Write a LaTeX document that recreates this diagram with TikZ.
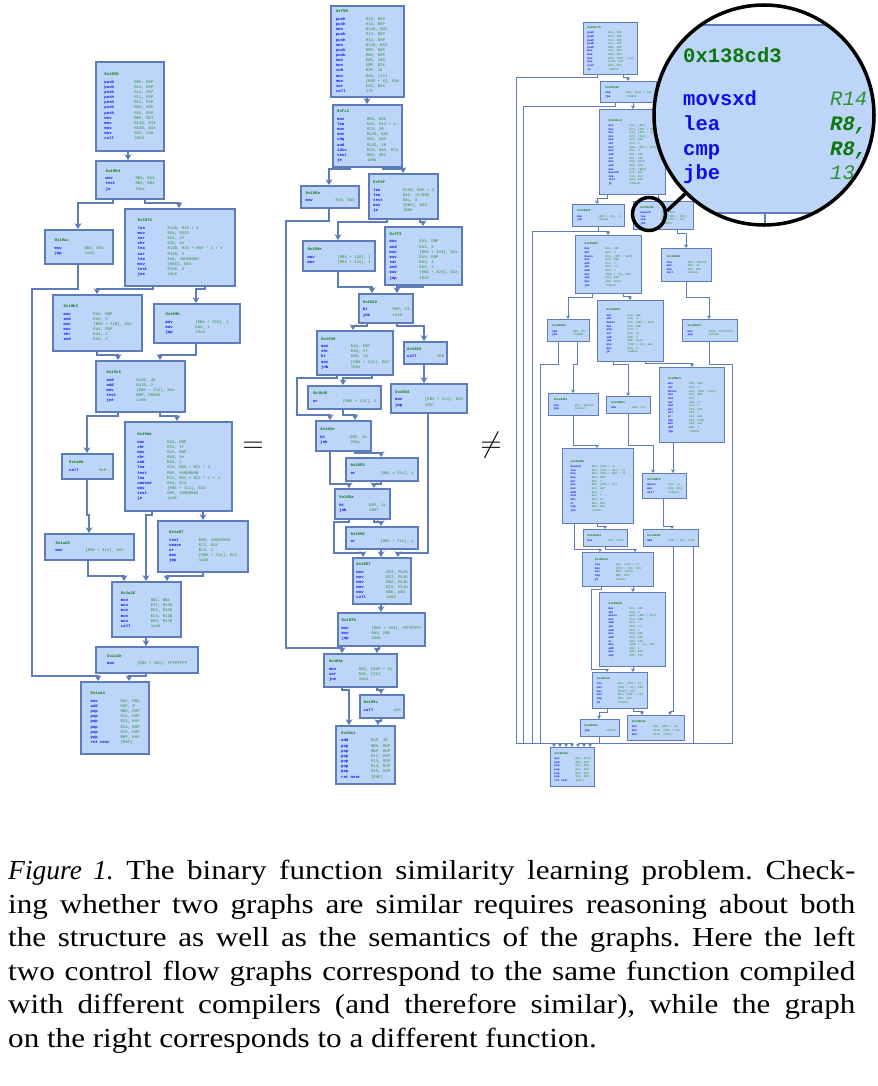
\documentclass[tikz,border=0pt]{standalone}
\usepackage{fontspec}
\setmainfont{Liberation Serif}
\setmonofont{Liberation Mono}
\newfontfamily\captionFont[UprightFeatures={FakeStretch=1.13}]{Liberation Serif}
\usepackage{tikz}
\usetikzlibrary{arrows.meta}
\definecolor{blockFill}{RGB}{190,213,250}
\definecolor{blockLine}{RGB}{94,124,183}
\definecolor{addrGreen}{RGB}{10,120,10}
\definecolor{mnemBlue}{RGB}{15,15,235}
\definecolor{opGreen}{RGB}{45,145,45}
\tikzstyle{picture} = [x = 0.03cm, y = -0.03cm]
\tikzstyle{cfgBlock} = [draw=blockLine, fill=blockFill, line width=2pt, inner sep=1pt, font=\fontsize{3.4}{4.4}\selectfont\ttfamily]
\tikzstyle{cfgBlockThin} = [cfgBlock, line width=1pt, font=\fontsize{2.4}{3.1}\selectfont\ttfamily]
\tikzstyle{flowEdge} = [draw=blockLine, line width=1.6pt, -{Stealth[length=5pt, width=6pt]}]
\tikzstyle{flowEdgeThin} = [draw=blockLine, line width=0.8pt, -{Stealth[length=3pt, width=3.5pt]}]
\tikzstyle{relSign} = [anchor=base, inner sep=0, font=\fontsize{36}{40}\selectfont]
\tikzstyle{lensRing} = [circle, draw=black, line width=3pt, inner sep=0]
\tikzstyle{lensHandle} = [draw=black, line width=3pt]
\tikzstyle{zoomText} = [anchor=base west, inner sep=0, font=\fontsize{17.5}{20}\selectfont\ttfamily]
\tikzstyle{captionText} = [anchor=north west, inner sep=0, text width=25.41cm, align=justify, font=\captionFont\fontsize{23.5}{28.6}\selectfont\frenchspacing]
\newcommand{\cfgNode}[7][cfgBlock]{\node [#1, anchor=north west, minimum width={(#5-#3)*0.03cm}, minimum height={(#6-#4)*0.03cm}] (#2) at (#3,#4) {#7};}
\newcommand{\cfgCode}[2]{\begin{tabular}{@{}l@{}}\textcolor{addrGreen}{\bfseries #1}\\[0.6em]#2\end{tabular}}
\newcommand{\ins}[2]{\makebox[7.5em][l]{\textcolor{mnemBlue}{\bfseries #1}}\textcolor{opGreen}{#2}\\}
\newcommand{\edgeDown}[4][flowEdge]{\draw [#1] (#2.south -| #4,0) -- (#3.north -| #4,0);}
\newcommand{\edgeJog}[6][flowEdge]{\draw [#1] (#2.south -| #4,0) -- (#4,#5) -- (#6,#5) -- (#3.north -| #6,0);}
\begin{document}
\begin{tikzpicture}[picture]
  \useasboundingbox (0,0) rectangle (878,1086);

  \cfgNode{b1950}{95}{61}{163}{150}{\cfgCode{0x1950}{\ins{push}{RBP, RSP}\ins{push}{R15, RSP}\ins{push}{R14, RSP}\ins{push}{R13, RSP}\ins{push}{R12, RSP}\ins{push}{RBX, RSP}\ins{push}{RAX, RSP}\ins{mov}{RBP, RDI}\ins{mov}{R14D, ESI}\ins{mov}{R15D, EDX}\ins{mov}{EDI, 340}\ins{call}{1028}}}
  \cfgNode{b196d}{95}{160}{163}{198}{\cfgCode{0x196d}{\ins{mov}{RBX, RAX}\ins{test}{RBX, RBX}\ins{je}{19ac}}}
  \cfgNode{b19ac}{44}{229}{112}{263}{\cfgCode{0x19ac}{\ins{mov}{EBX, EBX}\ins{jmp}{1a44}}}
  \cfgNode{b1975}{124}{208}{234}{285}{\cfgCode{0x1975}{\ins{lea}{R12D, R15 + 4}\ins{mov}{EAX, R12D}\ins{sar}{EAX, 1f}\ins{shr}{EAX, 1e}\ins{lea}{R13D, R15 + RAX * 2 + 4}\ins{sar}{R13D, 2}\ins{lea}{EAX, 20000000}\ins{mov}{[RBX], EAX}\ins{test}{R15D, 8}\ins{jne}{19c6}}}
  \cfgNode{b19b3}{52}{294}{141}{350}{\cfgCode{0x19b3}{\ins{mov}{EAX, EBP}\ins{and}{EAX, 3}\ins{mov}{[RBX + 320], EAX}\ins{mov}{EAX, EBP}\ins{shr}{EAX, 2}\ins{and}{EAX, 3}}}
  \cfgNode{b199b}{153}{303}{239}{342}{\cfgCode{0x199b}{\ins{mov}{[RBX + 320], 1}\ins{mov}{EAX, 1}\ins{jmp}{19c6}}}
  \cfgNode{b19c6}{95}{360}{184}{411}{\cfgCode{0x19c6}{\ins{and}{R12D, 40}\ins{add}{R13D, 2}\ins{mov}{[RBX + 324], EAX}\ins{test}{EBP, 80000}\ins{jne}{1a0b}}}
  \cfgNode{b1a0b}{61}{453}{112}{478}{\cfgCode{0x1a0b}{\ins{call}{8e0}}}
  \cfgNode{b19de}{124}{421}{231}{510}{\cfgCode{0x19de}{\ins{mov}{ECX, EBP}\ins{shr}{ECX, 1f}\ins{mov}{EAX, EBP}\ins{shr}{EAX, 1e}\ins{and}{EAX, 2}\ins{lea}{ECX, RAX + RCX * 1}\ins{test}{EBP, 40000000}\ins{lea}{ECX, RAX + RCX * 2 + 4}\ins{cmovne}{EAX, ECX}\ins{mov}{[RBX + 314], ECX}\ins{test}{EBP, 10000000}\ins{je}{1a26}}}
  \cfgNode{b1a20}{44}{533}{133}{559}{\cfgCode{0x1a20}{\ins{mov}{[RBX + 314], EAX}}}
  \cfgNode{b1a07}{157}{520}{247}{571}{\cfgCode{0x1a07}{\ins{test}{EBP, 40000000}\ins{cmove}{ECX, EAX}\ins{or}{ECX, 1}\ins{mov}{[RBX + 314], ECX}\ins{jmp}{1a26}}}
  \cfgNode{b1a26}{111}{581}{180}{636}{\cfgCode{0x1a26}{\ins{mov}{RDI, RBX}\ins{mov}{ESI, R14D}\ins{mov}{EDX, R15D}\ins{mov}{ECX, R12D}\ins{mov}{R8D, R13D}\ins{call}{1a56}}}
  \cfgNode{b1a3e}{95}{646}{197}{672}{\cfgCode{0x1a3e}{\ins{mov}{[RBX + 300], FFFFFFFF}}}
  \cfgNode{b1a44}{80}{681}{148}{753}{\cfgCode{0x1a44}{\ins{mov}{RAX, RBX}\ins{add}{RSP, 8}\ins{pop}{RBX, RSP}\ins{pop}{R12, RSP}\ins{pop}{R13, RSP}\ins{pop}{R14, RSP}\ins{pop}{R15, RSP}\ins{pop}{RBP, RSP}\ins{ret near}{[RSP]}}}

  \edgeDown{b1950}{b196d}{128}
  \edgeJog{b196d}{b19ac}{113}{203}{78}
  \edgeJog{b196d}{b1975}{145}{203}{179}
  \draw [flowEdge] (b19ac.south -| 78,0) -- (78,289) -- (32,289) -- (32,676) -- (98,676) -- (b1a44.north -| 98,0);
  \edgeJog{b1975}{b19b3}{153}{289}{97}
  \edgeJog{b1975}{b199b}{205}{289}{196}
  \edgeJog{b19b3}{b19c6}{97}{355}{118}
  \edgeJog{b199b}{b19c6}{196}{355}{160}
  \edgeJog{b19c6}{b1a0b}{118}{416}{87}
  \edgeJog{b19c6}{b19de}{160}{416}{177}
  \edgeJog{b1a0b}{b1a20}{87}{515}{89}
  \edgeJog{b19de}{b1a26}{152}{515}{146}
  \edgeDown{b19de}{b1a07}{203}
  \edgeJog{b1a20}{b1a26}{88}{576}{124}
  \edgeJog{b1a07}{b1a26}{203}{576}{167}
  \edgeDown{b1a26}{b1a3e}{146}
  \edgeJog{b1a3e}{b1a44}{146}{676}{129}

  \cfgNode{bf90}{330}{5}{403}{96}{\cfgCode{0xf90}{\ins{push}{R15, RSP}\ins{push}{R14, RSP}\ins{mov}{R14D, EDX}\ins{push}{R13, RSP}\ins{push}{R12, RSP}\ins{mov}{R13D, ESI}\ins{push}{RBP, RSP}\ins{push}{RBX, RSP}\ins{mov}{EDI, 340}\ins{mov}{EBP, ECX}\ins{sub}{RSP, 18}\ins{mov}{RAX, [28]}\ins{mov}{[RSP + 8], RAX}\ins{xor}{EAX, EAX}\ins{call}{470}}}
  \cfgNode{bfc3}{332}{104}{401}{166}{\cfgCode{0xfc3}{\ins{mov}{RBX, RAX}\ins{lea}{EAX, R13 + 4}\ins{mov}{ECX, 20}\ins{mov}{R12D, EAX}\ins{cdq}{EDX, EAX}\ins{and}{R12D, 40}\ins{idiv}{EDX, EAX, ECX}\ins{test}{RBX, RBX}\ins{je}{109a}}}
  \cfgNode{b109a}{300}{185}{358}{207}{\cfgCode{0x109a}{\ins{mov}{EAX, EAX}}}
  \cfgNode{bfdf}{368}{173}{437}{218}{\cfgCode{0xfdf}{\ins{lea}{R15D, RAX + 2}\ins{lea}{EAX, 217000}\ins{test}{R8L, 8}\ins{mov}{[RBX], EAX}\ins{je}{100e}}}
  \cfgNode{b100e}{302}{240}{374}{270}{\cfgCode{0x100e}{\ins{mov}{[RBX + 320], 1}\ins{mov}{[RBX + 324], 1}}}
  \cfgNode{bff3}{384}{226}{461}{284}{\cfgCode{0xff3}{\ins{mov}{EAX, EBP}\ins{and}{EAX, 3}\ins{mov}{[RBX + 320], EAX}\ins{mov}{EAX, EBP}\ins{sar}{EAX, 4}\ins{and}{EAX, 3}\ins{mov}{[RBX + 324], EAX}\ins{jmp}{1022}}}
  \cfgNode{b1022}{358}{293}{412}{322}{\cfgCode{0x1022}{\ins{bt}{EBP, 13}\ins{jnb}{1030}}}
  \cfgNode{b1030}{316}{330}{392}{374}{\cfgCode{0x1030}{\ins{mov}{EAX, EBP}\ins{shr}{EAX, 1f}\ins{bt}{EBP, 1d}\ins{mov}{[RBX + 314], EAX}\ins{jnb}{104e}}}
  \cfgNode{b1028}{403}{341}{446}{363}{\cfgCode{0x1028}{\ins{call}{450}}}
  \cfgNode{b1046}{307}{385}{380}{408}{\cfgCode{0x1046}{\ins{or}{[RBX + 314], 2}}}
  \cfgNode{b10d4}{390}{383}{466}{412}{\cfgCode{0x10d4}{\ins{mov}{[RBX + 314], EAX}\ins{jmp}{1067}}}
  \cfgNode{b104e}{315}{420}{370}{450}{\cfgCode{0x104e}{\ins{bt}{EBP, 1e}\ins{jnb}{105a}}}
  \cfgNode{b1053}{345}{457}{417}{480}{\cfgCode{0x1053}{\ins{or}{[RBX + 314], 4}}}
  \cfgNode{b105a}{334}{488}{389}{518}{\cfgCode{0x105a}{\ins{bt}{EBP, 1c}\ins{jnb}{1067}}}
  \cfgNode{b1060}{345}{526}{417}{548}{\cfgCode{0x1060}{\ins{or}{[RBX + 314], 1}}}
  \cfgNode{b1067}{352}{557}{410}{603}{\cfgCode{0x1067}{\ins{mov}{EDI, R12D}\ins{mov}{ESI, R15D}\ins{mov}{EDX, R14D}\ins{mov}{ECX, R13D}\ins{mov}{R8D, EBX}\ins{call}{4a60}}}
  \cfgNode{b107b}{337}{612}{424}{645}{\cfgCode{0x107b}{\ins{mov}{[RBX + 300], FFFFFFFF}\ins{mov}{RAX, RBX}\ins{jmp}{108c}}}
  \cfgNode{b108c}{323}{653}{396}{686}{\cfgCode{0x108c}{\ins{mov}{RDX, [RSP + 8]}\ins{xor}{RDX, [28]}\ins{jne}{10a1}}}
  \cfgNode{b109c}{359}{694}{403}{717}{\cfgCode{0x109c}{\ins{call}{420}}}
  \cfgNode{b10a1}{335}{725}{394}{783}{\cfgCode{0x10a1}{\ins{add}{RSP, 18}\ins{pop}{RBX, RSP}\ins{pop}{RBP, RSP}\ins{pop}{R12, RSP}\ins{pop}{R13, RSP}\ins{pop}{R14, RSP}\ins{pop}{R15, RSP}\ins{ret near}{[RSP]}}}

  \edgeDown{bf90}{bfc3}{367}
  \edgeJog{bfc3}{b109a}{350}{169}{329}
  \edgeJog{bfc3}{bfdf}{383}{169}{403}
  \draw [flowEdge] (b109a.south -| 329,0) -- (329,221) -- (286,221) -- (286,648) -- (342,648) -- (b108c.north -| 342,0);
  \edgeJog{bfdf}{b100e}{387}{222}{338}
  \edgeJog{bfdf}{bff3}{420}{222}{423}
  \edgeJog{b100e}{b1022}{338}{287}{372}
  \edgeJog{bff3}{b1022}{423}{287}{397}
  \edgeJog{b1022}{b1030}{367}{326}{353}
  \edgeJog{b1022}{b1028}{397}{326}{424}
  \edgeJog{b1030}{b1046}{372}{378}{343}
  \draw [flowEdge] (b1030.south -| 337,0) -- (337,378) -- (297,378) -- (297,415) -- (330,415) -- (b104e.north -| 330,0);
  \edgeDown{b1028}{b10d4}{424}
  \edgeJog{b1046}{b104e}{343}{415}{355}
  \edgeJog{b10d4}{b1067}{428}{553}{398}
  \edgeJog{b104e}{b1053}{355}{453}{381}
  \edgeJog{b104e}{b105a}{330}{484}{349}
  \edgeJog{b1053}{b105a}{381}{484}{374}
  \edgeJog{b105a}{b1060}{374}{522}{381}
  \draw [flowEdge] (b105a.south -| 349,0) -- (349,522) -- (334,522) -- (334,553) -- (363,553) -- (b1067.north -| 363,0);
  \edgeDown{b1060}{b1067}{381}
  \edgeDown{b1067}{b107b}{381}
  \edgeJog{b107b}{b108c}{379}{649}{377}
  \edgeJog{b108c}{b10a1}{342}{690}{349}
  \edgeJog{b108c}{b109c}{377}{690}{381}
  \edgeJog{b109c}{b10a1}{381}{721}{378}

  \cfgNode[cfgBlockThin]{r1}{583}{22}{637}{74}{\cfgCode{0x138c70}{\ins{push}{R15, RSP}\ins{push}{R14, RSP}\ins{push}{R13, RSP}\ins{push}{R12, RSP}\ins{push}{RBX, RSP}\ins{mov}{R12, RDI}\ins{mov}{RBX, RSI}\ins{mov}{EAX, [RDI + 10]}\ins{mov}{R13D, EDX}\ins{test}{EDX, EDX}\ins{je}{138e40}}}
  \cfgNode[cfgBlockThin]{r2}{600}{81}{656}{102}{\cfgCode{0x138cb8}{\ins{cmp}{EAX, [RSI + 10]}\ins{jbe}{138d20}}}
  \cfgNode[cfgBlockThin]{r3}{599}{109}{665}{194}{\cfgCode{0x138cc0}{\ins{mov}{RAX, [RDI]}\ins{mov}{RCX, [RSI + 18]}\ins{mov}{R15, [RSI + 8]}\ins{mov}{EDX, [RAX]}\ins{mov}{ECX, EDX}\ins{shl}{ECX, 3}\ins{mov}{R8D, [RAX + RDX]}\ins{mov}{ESI, 4}\ins{sub}{ESI, R8D}\ins{xor}{EDI, EDI}\ins{mov}{R9D, R15D}\ins{and}{R9D, ESI}\ins{mov}{R10, [RBX]}\ins{movsxd}{R11, ECX}\ins{cmp}{R10, R11}\ins{test}{EAX, EAX}\ins{je}{138e10}}}
  \cfgNode[cfgBlockThin]{r4}{572}{204}{624}{226}{\cfgCode{0x138d20}{\ins{mov}{[RDI + 20], 0}\ins{jmp}{138e4b}}}
  \cfgNode[cfgBlockThin]{r5}{633}{201}{693}{229}{\cfgCode{0x138cd3}{\ins{movsxd}{R14, EDX}\ins{lea}{R8, [RDX + R14]}\ins{cmp}{R8, [RSI + 10]}\ins{jbe}{138d60}}}
  \cfgNode[cfgBlockThin]{r6}{575}{235}{641}{293}{\cfgCode{0x138d05}{\ins{mov}{EAX, EBP}\ins{shr}{EAX, 3}\ins{movsx}{EAX, [RDI + RAX]}\ins{mov}{ECX, EBP}\ins{and}{ECX, 7}\ins{sar}{EAX, CL}\ins{and}{EAX, 1}\ins{mov}{[RSP + 10], EAX}\ins{cmp}{EAX, EDX}\ins{mov}{EDX, R13D}\ins{jne}{138d4b}}}
  \cfgNode[cfgBlockThin]{r7}{661}{248}{711}{281}{\cfgCode{0x138da0}{\ins{lea}{ESI, 138f00}\ins{mov}{EDX, 14}\ins{mov}{RDI, RBX}\ins{call}{1386a0}}}
  \cfgNode[cfgBlockThin]{r8}{547}{319}{589}{341}{\cfgCode{0x138d4b}{\ins{cmp}{EBP, 88}\ins{jbe}{138dd8}}}
  \cfgNode[cfgBlockThin]{r9}{597}{300}{663}{361}{\cfgCode{0x138d52}{\ins{mov}{EAX, EBP}\ins{shr}{EAX, 3}\ins{movsx}{EAX, [RDI + RAX]}\ins{mov}{ECX, EBP}\ins{and}{ECX, 7}\ins{sar}{EAX, CL}\ins{add}{EBP, 1}\ins{cmp}{EBP, R14D}\ins{mov}{[RSP + 14], EAX}\ins{mov}{EDX, 1}\ins{jb}{138d6a}}}
  \cfgNode[cfgBlockThin]{r10}{682}{319}{737}{341}{\cfgCode{0x138da7}{\ins{mov}{R13D, FFFFFFFF}\ins{jmp}{138e4b}}}
  \cfgNode[cfgBlockThin]{r11}{548}{393}{598}{415}{\cfgCode{0x138d60}{\ins{lea}{EDI, 138ea0}\ins{jmp}{138e04}}}
  \cfgNode[cfgBlockThin]{r12}{606}{396}{650}{413}{\cfgCode{0x138d6a}{\ins{mov}{EBX, ECX}}}
  \cfgNode[cfgBlockThin]{r13}{659}{367}{724}{442}{\cfgCode{0x138d7c}{\ins{mov}{EAX, EBP}\ins{shr}{EAX, 3}\ins{movsx}{EAX, [RDI + RAX]}\ins{mov}{ECX, EBP}\ins{and}{ECX, 7}\ins{sar}{EAX, CL}\ins{and}{EAX, 1}\ins{mov}{EDX, EAX}\ins{shl}{EDX, 1}\ins{or}{EDX, EBX}\ins{cmp}{EDX, R13D}\ins{mov}{EBX, EDX}\ins{add}{EBP, 1}\ins{jmp}{138dc9}}}
  \cfgNode[cfgBlockThin]{r14}{562}{448}{633}{523}{\cfgCode{0x138d90}{\ins{movsxd}{EAX, [RSP + 4]}\ins{lea}{EDX, [RAX + RCX * 2]}\ins{mov}{ECX, [RDI + RAX * 4]}\ins{mov}{EDX, EBX}\ins{shr}{EDX, 3}\ins{mov}{ESI, [RSP + 10]}\ins{mov}{EAX, EBP}\ins{add}{EAX, 7}\ins{and}{ECX, 7}\ins{shl}{EAX, CL}\ins{or}{EAX, EDX}\ins{cmp}{EBX, ESI}\ins{jbe}{138e04}}}
  \cfgNode[cfgBlockThin]{r15}{642}{473}{686}{498}{\cfgCode{0x138dc9}{\ins{movsx}{EDX, CL}\ins{mov}{EAX, EDX}\ins{call}{1385e0}}}
  \cfgNode[cfgBlockThin]{r16}{583}{529}{627}{546}{\cfgCode{0x138e04}{\ins{mov}{ECX, R15D}}}
  \cfgNode[cfgBlockThin]{r17}{643}{529}{698}{546}{\cfgCode{0x138e09}{\ins{add}{[RDI + 20], R15D}}}
  \cfgNode[cfgBlockThin]{r18}{582}{552}{653}{586}{\cfgCode{0x138e11}{\ins{lea}{EAX, [RCX + 7]}\ins{mov}{[RSP + 18], EDX}\ins{mov}{EBP, [RSI]}\ins{cmp}{EBP, EAX}\ins{jb}{138e2e}}}
  \cfgNode[cfgBlockThin]{r19}{599}{592}{665}{666}{\cfgCode{0x138e18}{\ins{mov}{EAX, EBP}\ins{shr}{EAX, 3}\ins{movsx}{EDX, [RDI + RAX]}\ins{mov}{ECX, EBP}\ins{and}{ECX, 7}\ins{sar}{EDX, CL}\ins{and}{EDX, 1}\ins{mov}{EAX, EBX}\ins{add}{EAX, EAX}\ins{or}{EAX, EDX}\ins{mov}{[RSP + 14], EAX}\ins{add}{EBP, 1}\ins{mov}{EBX, EAX}\ins{cmp}{EBP, ESI}}}
  \cfgNode[cfgBlockThin]{r20}{592}{672}{647}{708}{\cfgCode{0x138e2e}{\ins{lea}{EAX, [RDI + 8]}\ins{mov}{[RSI + 10], EBP}\ins{mov}{[RSP], R15}\ins{mov}{EDX, [RSP + 18]}\ins{cmp}{EDX, EBX}\ins{jb}{138e6a}}}
  \cfgNode[cfgBlockThin]{r21}{580}{719}{619}{736}{\cfgCode{0x138e6a}{\ins{jmp}{138e4b}}}
  \cfgNode[cfgBlockThin]{r22}{627}{715}{684}{740}{\cfgCode{0x138e4b}{\ins{mov}{EAX, [RDI + 10]}\ins{mov}{R15D, [RSP + 18]}\ins{mov}{R13D, [RBX]}}}
  \cfgNode[cfgBlockThin]{r23}{550}{747}{594}{786}{\cfgCode{0x138e6b}{\ins{mov}{EAX, R13D}\ins{pop}{RBX, RSP}\ins{pop}{R12, RSP}\ins{pop}{R13, RSP}\ins{pop}{R14, RSP}\ins{pop}{R15, RSP}\ins{ret near}{[RSP]}}}

  \edgeJog[flowEdgeThin]{r1}{r2}{623}{77}{628}
  \draw [flowEdgeThin] (r1.south -| 597,0) -- (597,77) -- (516,77) -- (516,743) -- (554,743) -- (r23.north -| 554,0);
  \edgeDown[flowEdgeThin]{r2}{r3}{633}
  \draw [flowEdgeThin] (r2.south -| 615,0) -- (615,106) -- (523,106) -- (523,743) -- (560,743) -- (r23.north -| 560,0);
  \edgeJog[flowEdgeThin]{r3}{r4}{607}{198}{597}
  \edgeDown[flowEdgeThin]{r3}{r5}{658}
  \edgeJog[flowEdgeThin]{r4}{r6}{598}{231}{608}
  \draw [flowEdgeThin] (r4.south -| 598,0) -- (598,231) -- (532,231) -- (532,743) -- (566,743) -- (r23.north -| 566,0);
  \edgeJog[flowEdgeThin]{r5}{r7}{677}{233}{686}
  \edgeJog[flowEdgeThin]{r6}{r8}{592}{297}{568}
  \edgeJog[flowEdgeThin]{r6}{r9}{623}{296}{630}
  \edgeJog[flowEdgeThin]{r7}{r10}{686}{297}{709}
  \edgeJog[flowEdgeThin]{r8}{r11}{577}{364}{573}
  \draw [flowEdgeThin] (r8.south -| 558,0) -- (558,364) -- (540,364) -- (540,743) -- (572,743) -- (r23.north -| 572,0);
  \edgeJog[flowEdgeThin]{r9}{r12}{613}{364}{628}
  \edgeJog[flowEdgeThin]{r9}{r13}{645}{363}{692}
  \draw [flowEdgeThin] (r10.south -| 709,0) -- (709,364) -- (732,364) -- (732,743) -- (590,743) -- (r23.north -| 590,0);
  \edgeJog[flowEdgeThin]{r11}{r14}{573}{445}{597}
  \edgeJog[flowEdgeThin]{r12}{r15}{628}{445}{653}
  \edgeDown[flowEdgeThin]{r13}{r15}{673}
  \edgeJog[flowEdgeThin]{r14}{r16}{597}{526}{605}
  \edgeJog[flowEdgeThin]{r14}{r18}{574}{549}{600}
  \edgeJog[flowEdgeThin]{r15}{r17}{663}{526}{672}
  \edgeJog[flowEdgeThin]{r16}{r18}{605}{549}{635}
  \edgeJog[flowEdgeThin]{r17}{r22}{673}{711}{670}
  \draw [flowEdgeThin] (r17.south -| 693,0) -- (693,743) -- (584,743) -- (r23.north -| 584,0);
  \edgeDown[flowEdgeThin]{r18}{r19}{633}
  \draw [flowEdgeThin] (r18.south -| 601,0) -- (601,589) -- (591,589) -- (591,669) -- (607,669) -- (r20.north -| 607,0);
  \edgeDown[flowEdgeThin]{r19}{r20}{633}
  \edgeJog[flowEdgeThin]{r20}{r21}{607}{712}{599}
  \edgeJog[flowEdgeThin]{r20}{r22}{633}{711}{642}
  \edgeJog[flowEdgeThin]{r21}{r23}{599}{743}{578}

  \node [relSign] (sameSign) at (253,452.6) {$=$};
  \node [relSign] (diffSign) at (491,452.6) {$\neq$};

  \begin{scope}
    \clip (764,115) circle [radius=3.3cm];
    \fill [white] (764,115) circle [radius=3.3cm];
    \draw [draw=blockLine, fill=blockFill, line width=1pt] (640,25) rectangle (900,213);
    \draw [blockLine, line width=1pt] (765,213) -- (765,240);
    \node [zoomText, text=addrGreen, font=\fontsize{17.5}{20}\selectfont\ttfamily\bfseries] (zoomAddr) at (683,62) {0x138cd3};
    \node [zoomText, text=mnemBlue, font=\fontsize{17.5}{20}\selectfont\ttfamily\bfseries] (zoomMovsxd) at (683,105) {movsxd};
    \node [zoomText, text=mnemBlue, font=\fontsize{17.5}{20}\selectfont\ttfamily\bfseries] (zoomLea) at (683,130) {lea};
    \node [zoomText, text=mnemBlue, font=\fontsize{17.5}{20}\selectfont\ttfamily\bfseries] (zoomCmp) at (683,155) {cmp};
    \node [zoomText, text=mnemBlue, font=\fontsize{17.5}{20}\selectfont\ttfamily\bfseries] (zoomJbe) at (683,179) {jbe};
    \node [zoomText, text=opGreen, font=\fontsize{17.5}{20}\selectfont\ttfamily\itshape] (zoomOpA) at (830,105) {R14};
    \node [zoomText, text=addrGreen, font=\fontsize{17.5}{20}\selectfont\ttfamily\bfseries\itshape] (zoomOpB) at (830,130) {R8,};
    \node [zoomText, text=addrGreen, font=\fontsize{17.5}{20}\selectfont\ttfamily\bfseries\itshape] (zoomOpC) at (830,155) {R8,};
    \node [zoomText, text=opGreen, font=\fontsize{17.5}{20}\selectfont\ttfamily\itshape] (zoomOpD) at (830,179) {13};
  \end{scope}
  \node [lensRing, minimum size=6.6cm] (lensBig) at (764,115) {};
  \node [lensRing, minimum size=0.99cm] (lensSmall) at (649,214) {};
  \draw [lensHandle] (lensSmall.10) -- (lensBig.225);

  \node [captionText] (caption) at (8,860) {\textit{Figure 1.} The binary function similarity learning problem. Check-\linebreak ing whether two graphs are similar requires reasoning about both\linebreak the structure as well as the semantics of the graphs. Here the left\linebreak two control flow graphs correspond to the same function compiled\linebreak with different compilers (and therefore similar), while the graph\linebreak on the right corresponds to a different function.};
\end{tikzpicture}
\end{document}
